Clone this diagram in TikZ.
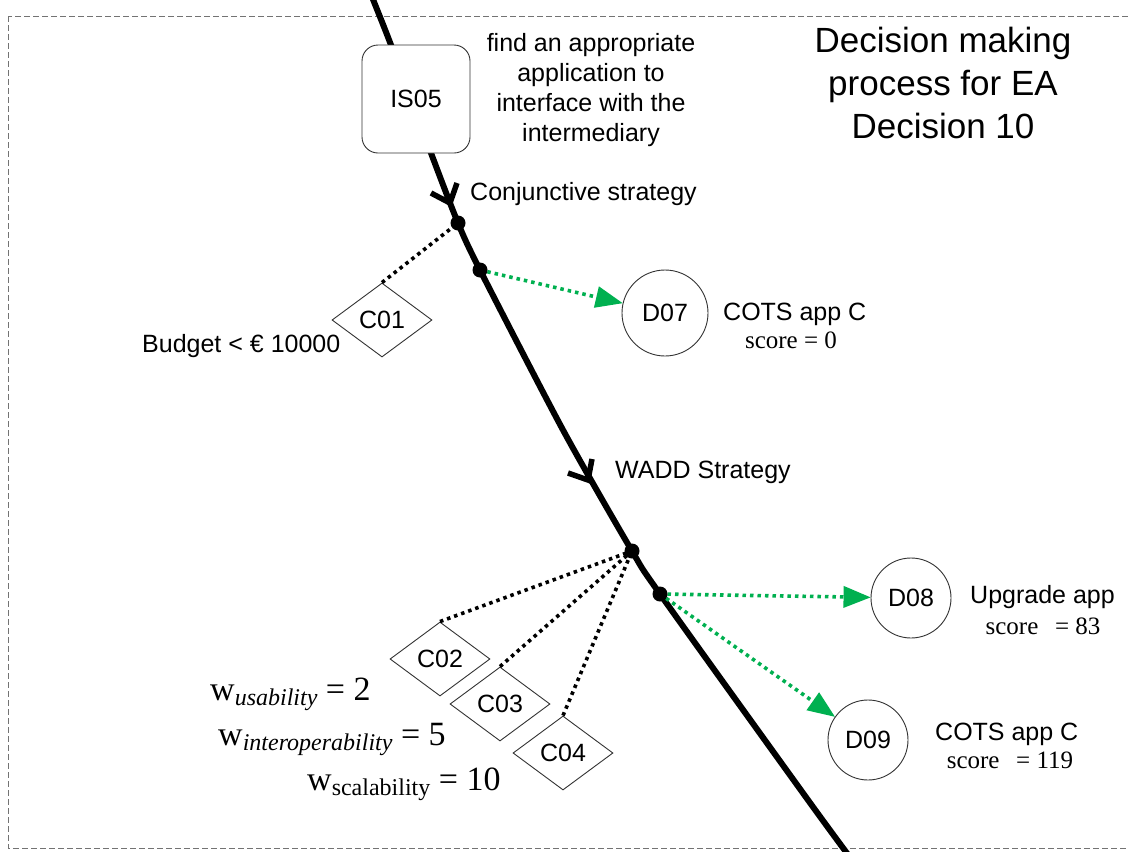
\documentclass[tikz,border=0pt]{standalone}
\usepackage{fontspec}
\setmainfont{Liberation Sans}
\newfontfamily\tms{Liberation Serif}
\usetikzlibrary{shapes.geometric,arrows.meta}
\definecolor{grn}{RGB}{0,176,80}
\begin{document}
\begin{tikzpicture}[x=1pt,y=-1pt,
  txt/.style={inner sep=0pt, font=\fontsize{25}{30}\selectfont},
  ttl/.style={inner sep=0pt, align=center, font=\fontsize{35}{43}\selectfont},
  scr/.style={inner sep=0pt, font=\tms\fontsize{25}{30}\selectfont},
  wlab/.style={inner sep=0pt, anchor=base west, font=\tms\fontsize{34}{34}\selectfont},
  crit/.style={draw=black!80, line width=0.9pt, shape=diamond, aspect=1.35, inner sep=0pt, minimum width=100pt, minimum height=74pt, fill=white, font=\fontsize{25}{30}\selectfont},
  dec/.style={draw=black!80, line width=0.9pt, circle, minimum size=80pt, inner sep=0pt, fill=white, font=\fontsize{25}{30}\selectfont},
  isbox/.style={draw=black!80, line width=0.9pt, rounded corners=16pt, minimum width=108pt, minimum height=108pt, fill=white, font=\fontsize{25}{30}\selectfont},
  mainline/.style={line width=6pt},
  pdot/.style={circle, fill=black, inner sep=0pt, minimum size=15pt},
  crl/.style={line width=3.6pt, dash pattern=on 3.5pt off 4pt},
  dl/.style={draw=grn, line width=3.6pt, dash pattern=on 3.5pt off 4pt, -{Triangle[length=27pt,width=22pt,fill=grn,line width=0pt]}},
  chev/.style={line width=5.5pt, line join=miter},
  frame/.style={draw=black!55, line width=1pt, dash pattern=on 6pt off 3pt},
]
\useasboundingbox (0,0) rectangle (1128,852);
\draw[frame] (8,16) rectangle (1140,848);

% main curve points
\coordinate (k0) at (370,-8);
\coordinate (k1) at (391,45);
\coordinate (k2) at (431,153);
\coordinate (q1) at (458,223);
\coordinate (q2) at (480,270);
\coordinate (k3) at (563,430);
\coordinate (q3) at (632,551);
\coordinate (q4) at (660,594);
\coordinate (k4) at (808,800);
\coordinate (k5) at (852,860);
\draw[mainline] plot[smooth, tension=0.45] coordinates {(k0) (k1) (k2) (q1) (q2) (k3) (q3) (q4) (k4) (k5)};

% chevrons (open arrowheads on the main line)
\coordinate (a1) at (450,203);
\coordinate (a1l) at (431,193);
\coordinate (a1r) at (457,183);
\coordinate (a2) at (588,480);
\coordinate (a2l) at (568,473);
\coordinate (a2r) at (592,459);
\draw[chev] (a1l) -- (a1) -- (a1r);
\draw[chev] (a2l) -- (a2) -- (a2r);

% nodes
\node[isbox] (is05) at (416,99) {IS05};
\node[txt, anchor=north, align=center] (task) at (591,33) {find an appropriate\\application to\\interface with the\\intermediary};
\node[ttl, anchor=north] (title) at (943,27) {Decision making\\process for EA\\Decision 10};
\node[txt, anchor=base west] (conj) at (470,200) {Conjunctive strategy};
\node[txt, anchor=base west] (wadd) at (615,478) {WADD Strategy};

\node[crit] (c01) at (382,320) {C01};
\node[txt, anchor=base west] (budget) at (142,352) {Budget < € 10000};

\node[dec, minimum size=86pt] (d07) at (665,313) {D07};
\node[txt, anchor=base west] (d07t) at (723,320) {COTS app C};
\node[scr, anchor=base] (d07s) at (791,348) {score = 0};

\node[crit] (c02) at (440,659) {C02};
\node[crit] (c03) at (500,704) {C03};
\node[crit] (c04) at (563,753) {C04};

\node[wlab] (wu) at (210,700) {w\raisebox{-5pt}{\fontsize{24}{24}\selectfont\itshape usability} = 2};
\node[wlab] (wi) at (218,745) {w\raisebox{-5pt}{\fontsize{24}{24}\selectfont\itshape interoperability} = 5};
\node[wlab] (ws) at (307,790) {w\raisebox{-5pt}{\fontsize{24}{24}\selectfont scalability} = 10};

\node[dec] (d08) at (911,598) {D08};
\node[txt, anchor=base west] (d08t) at (970,603) {Upgrade app};
\node[scr, anchor=base] (d08s) at (1043,634) {score \ \,= 83};

\node[dec] (d09) at (868,740) {D09};
\node[txt, anchor=base west] (d09t) at (935,740) {COTS app C};
\node[scr, anchor=base] (d09s) at (1010,768) {score \ \,= 119};

% connectors
\draw[crl] (c01.north) -- (q1);
\draw[crl] (c02.north) -- (q3);
\draw[crl] (c03.north) -- (q3);
\draw[crl] (c04.north) -- (q3);
\draw[dl] (q2) -- (d07);
\draw[dl] (q4) -- (d08);
\draw[dl] (q4) -- (d09);

% dots
\node[pdot] (p1) at (q1) {};
\node[pdot] (p2) at (q2) {};
\node[pdot] (p3) at (q3) {};
\node[pdot] (p4) at (q4) {};
\end{tikzpicture}
\end{document}
